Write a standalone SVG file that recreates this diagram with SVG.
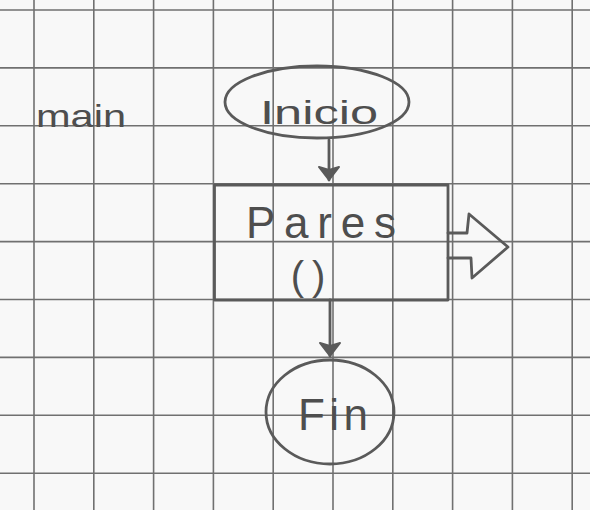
<svg xmlns="http://www.w3.org/2000/svg" width="590" height="510" viewBox="0 0 590 510">
<style>
.grid line{stroke:#707070;stroke-width:1.6}
.pen{fill:none;stroke:#5a5a5a;stroke-width:2.8;stroke-linecap:round;stroke-linejoin:round}
.hand{font-family:"Liberation Sans","DejaVu Sans",sans-serif;fill:#4e4e4e;font-weight:normal}
</style>
<defs>
<marker id="ah" viewBox="0 0 16 24" refX="15" refY="12" markerWidth="16" markerHeight="24" markerUnits="userSpaceOnUse" orient="auto">
<path d="M2,2 L15,12 L2,22 L5,12 Z" fill="#5a5a5a" stroke="#5a5a5a" stroke-width="2" stroke-linejoin="round"/>
</marker>
</defs>
<rect width="590" height="510" fill="#f8f8f8"/>
<g class="grid">
<line x1="34" y1="0" x2="34" y2="510"/>
<line x1="93.8" y1="0" x2="93.8" y2="510"/>
<line x1="153.6" y1="0" x2="153.6" y2="510"/>
<line x1="213.4" y1="0" x2="213.4" y2="510"/>
<line x1="273.2" y1="0" x2="273.2" y2="510"/>
<line x1="333" y1="0" x2="333" y2="510"/>
<line x1="392.8" y1="0" x2="392.8" y2="510"/>
<line x1="452.6" y1="0" x2="452.6" y2="510"/>
<line x1="512.4" y1="0" x2="512.4" y2="510"/>
<line x1="572.2" y1="0" x2="572.2" y2="510"/>
<line x1="0" y1="10" x2="590" y2="10"/>
<line x1="0" y1="67.9" x2="590" y2="67.9"/>
<line x1="0" y1="125.8" x2="590" y2="125.8"/>
<line x1="0" y1="183.7" x2="590" y2="183.7"/>
<line x1="0" y1="241.6" x2="590" y2="241.6"/>
<line x1="0" y1="299.5" x2="590" y2="299.5"/>
<line x1="0" y1="357.4" x2="590" y2="357.4"/>
<line x1="0" y1="415.3" x2="590" y2="415.3"/>
<line x1="0" y1="473.2" x2="590" y2="473.2"/>
</g>
<g id="label-main">
<text class="hand" x="36" y="127" font-size="32" textLength="90" lengthAdjust="spacingAndGlyphs">main</text>
</g>
<g id="node-inicio">
<ellipse class="pen" cx="317" cy="102" rx="92" ry="36"/>
<text class="hand" x="260" y="124" font-size="34" textLength="118" lengthAdjust="spacingAndGlyphs">Inicio</text>
</g>
<g id="node-pares">
<rect class="pen" x="214.5" y="185" width="233.5" height="115"/>
<text class="hand" x="246" y="238" font-size="44" textLength="150" lengthAdjust="spacing">Pares</text>
<text class="hand" x="312" y="290" font-size="40" text-anchor="middle" letter-spacing="8">()</text>
<path class="pen" d="M448,233 L467,233 L469,214 L508,247 L472,278 L471,258 L448,258"/>
</g>
<g id="node-fin">
<ellipse class="pen" cx="330" cy="412" rx="64" ry="52"/>
<text class="hand" x="298" y="430" font-size="44" textLength="70" lengthAdjust="spacing">Fin</text>
</g>
<g id="connectors">
<line class="pen" x1="329" y1="140" x2="329" y2="180" marker-end="url(#ah)"/>
<line class="pen" x1="330" y1="300" x2="330" y2="356" marker-end="url(#ah)"/>
</g>
</svg>
